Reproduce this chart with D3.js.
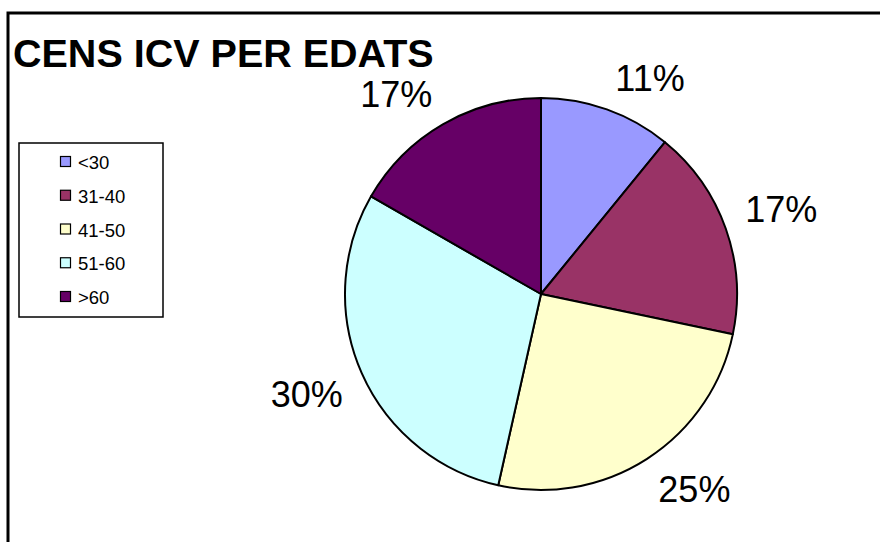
<html>
<head>
<style>
  body { margin: 0; background: #fff; }
  text { font-family: "Liberation Sans", Arial, sans-serif; }
</style>
</head>
<body>
<svg id="chart"></svg>
<script src="https://d3js.org/d3.v7.min.js"></script>
<script type="text/javascript">
  // data (percent of total)
  var categories = ["<30", "31-40", "41-50", "51-60", ">60"];
  var values = [10.9, 17.4, 25.2, 29.8, 16.7];
  var colours = ["#9999FF", "#993366", "#FFFFCC", "#CCFFFF", "#660066"];
  var title = "CENS ICV PER EDATS";

  var width = 880, height = 542;
  var svg = d3.select("#chart").attr("width", width).attr("height", height);

  // outer frame, runs off the right and bottom edge
  svg.append("rect")
    .attr("x", 8).attr("y", 13)
    .attr("width", width).attr("height", height)
    .attr("fill", "none").attr("stroke", "#000").attr("stroke-width", 3);

  svg.append("text")
    .attr("x", 13).attr("y", 67)
    .attr("font-size", 39.5).attr("font-weight", "bold")
    .text(title);

  var cx = 541, cy = 294, R = 196;
  var total = d3.sum(values);
  var color = d3.scaleOrdinal().domain(categories).range(colours);

  var pie = d3.pie().sort(null).value(function(d) { return d.v; });
  var arcs = pie(categories.map(function(c, i) { return { c: c, v: values[i] }; }));
  var arc = d3.arc().innerRadius(0).outerRadius(R);

  var g = svg.append("g").attr("transform", "translate(" + cx + "," + cy + ")");
  g.selectAll("path")
    .data(arcs)
    .enter().append("path")
    .attr("d", arc)
    .attr("fill", function(d) { return color(d.data.c); })
    .attr("stroke", "#000")
    .attr("stroke-width", 2)
    .attr("stroke-linejoin", "round");

  // labels: nearest corner of the text box sits on the radial line just outside the pie
  var fs = 36, lw = 73, lh = fs * 0.72, lr = R + 20;
  g.selectAll("text.pct")
    .data(arcs)
    .enter().append("text")
    .attr("class", "pct")
    .attr("font-size", fs)
    .attr("text-anchor", "middle")
    .attr("x", function(d) {
      var a = (d.startAngle + d.endAngle) / 2;
      var s = Math.sin(a);
      return lr * s + (s >= 0 ? 1 : -1) * lw / 2;
    })
    .attr("y", function(d) {
      var a = (d.startAngle + d.endAngle) / 2;
      var c = -Math.cos(a);
      return lr * c + (c >= 0 ? 1 : -1) * lh / 2 + lh / 2;
    })
    .text(function(d) { return Math.round(d.data.v / total * 100) + "%"; });

  // legend
  var legend = svg.append("g");
  legend.append("rect")
    .attr("x", 19).attr("y", 143).attr("width", 144).attr("height", 174)
    .attr("fill", "#fff").attr("stroke", "#000").attr("stroke-width", 1.5);

  var ly = d3.scalePoint().domain(categories).range([162, 297]);
  var rows = legend.selectAll("g.row")
    .data(categories)
    .enter().append("g")
    .attr("class", "row")
    .attr("transform", function(d) { return "translate(0," + ly(d) + ")"; });
  rows.append("rect")
    .attr("x", 60.5).attr("y", -5.5).attr("width", 10).attr("height", 10)
    .attr("fill", function(d) { return color(d); })
    .attr("stroke", "#000").attr("stroke-width", 1.2);
  rows.append("text")
    .attr("x", 78).attr("y", 7)
    .attr("font-size", 18.5)
    .text(function(d) { return d; });
</script>
</body>
</html>
